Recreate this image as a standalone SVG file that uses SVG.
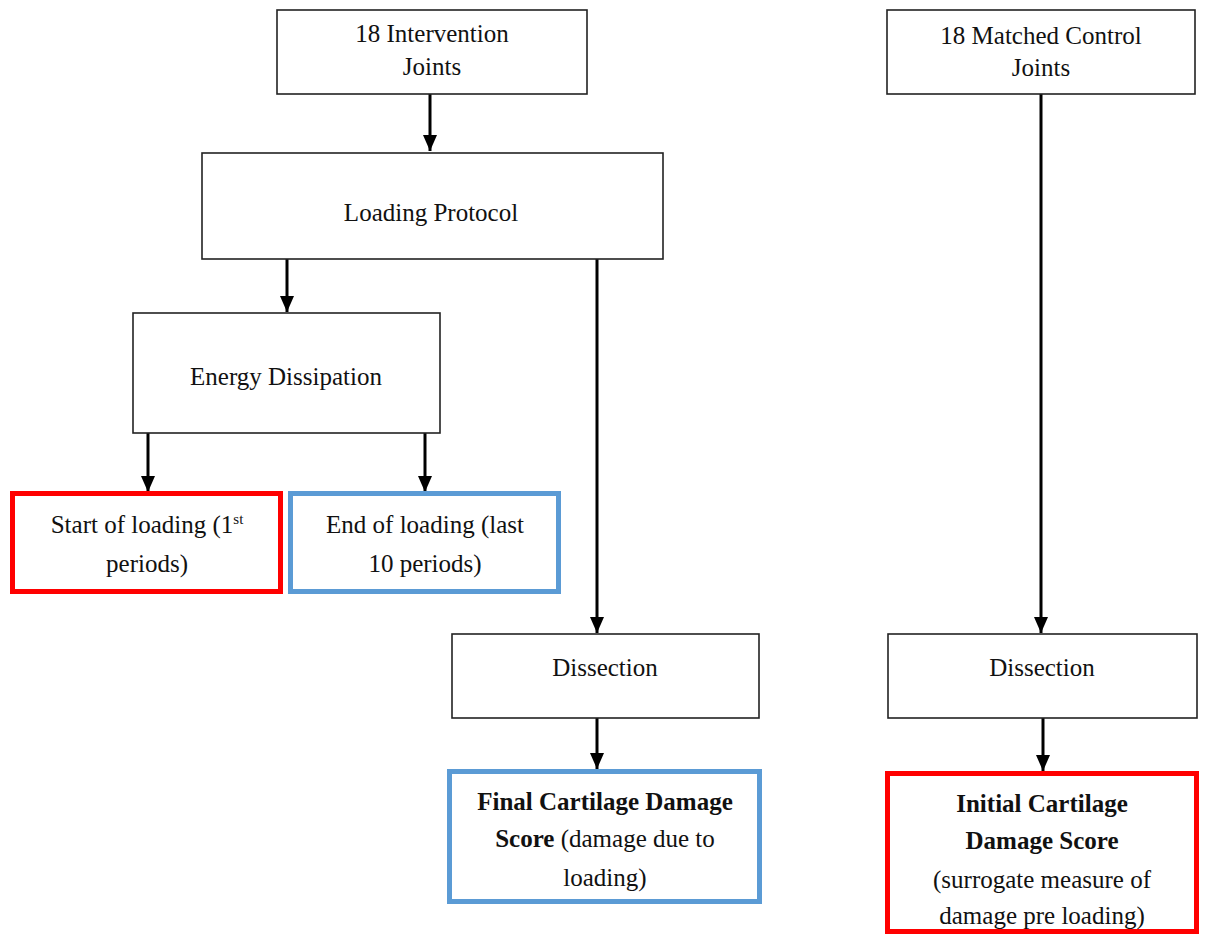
<svg xmlns="http://www.w3.org/2000/svg" width="1205" height="936" viewBox="0 0 1205 936">
<style>
.box{fill:#fff;stroke:#222;stroke-width:1.6}
.red{fill:#fff;stroke:#ff0000;stroke-width:5}
.blue{fill:#fff;stroke:#5b9bd5;stroke-width:5}
.t{font-family:"Liberation Serif","Times New Roman",serif;font-size:25px;fill:#111;text-anchor:middle}
.b{font-weight:bold}
.c{stroke:#000;stroke-width:3;fill:none;marker-end:url(#ah)}
</style>
<defs>
<marker id="ah" markerUnits="userSpaceOnUse" markerWidth="16" markerHeight="14" refX="16" refY="7" orient="auto" viewBox="0 0 16 14">
<path d="M0,0 L16,7 L0,14 Z" fill="#000"/>
</marker>
</defs>
<rect width="1205" height="936" fill="#fff"/>
<g id="connectors">
<line class="c" x1="430" y1="94" x2="430" y2="151"/>
<line class="c" x1="287" y1="259" x2="287" y2="312"/>
<line class="c" x1="148" y1="433" x2="148" y2="492"/>
<line class="c" x1="425" y1="433" x2="425" y2="492"/>
<line class="c" x1="597" y1="259" x2="597" y2="633"/>
<line class="c" x1="597" y1="718" x2="597" y2="769"/>
<line class="c" x1="1041" y1="94" x2="1041" y2="633"/>
<line class="c" x1="1043" y1="718" x2="1043" y2="771"/>
</g>
<g id="intervention">
<rect class="box" x="277" y="10" width="310" height="84"/>
<text class="t" x="432" y="42">18 Intervention</text>
<text class="t" x="432" y="75">Joints</text>
</g>
<g id="control">
<rect class="box" x="887" y="10" width="308" height="84"/>
<text class="t" x="1041" y="44">18 Matched Control</text>
<text class="t" x="1041" y="76">Joints</text>
</g>
<g id="loading">
<rect class="box" x="202" y="153" width="461" height="106"/>
<text class="t" x="431" y="221">Loading Protocol</text>
</g>
<g id="energy">
<rect class="box" x="133" y="313" width="307" height="120"/>
<text class="t" x="286" y="385">Energy Dissipation</text>
</g>
<g id="start">
<rect class="red" x="12.5" y="493.5" width="268" height="98"/>
<text class="t" x="147" y="533">Start of loading (1<tspan font-size="15" dy="-9">st</tspan></text>
<text class="t" x="147" y="572">periods)</text>
</g>
<g id="end">
<rect class="blue" x="290.5" y="493.5" width="268" height="98"/>
<text class="t" x="425" y="533">End of loading (last</text>
<text class="t" x="425" y="572">10 periods)</text>
</g>
<g id="dissection-left">
<rect class="box" x="452" y="634" width="307" height="84"/>
<text class="t" x="605" y="676">Dissection</text>
</g>
<g id="final">
<rect class="blue" x="449.5" y="771.5" width="310" height="130"/>
<text class="t b" x="605" y="810">Final Cartilage Damage</text>
<text class="t" x="605" y="847"><tspan class="b">Score</tspan> (damage due to</text>
<text class="t" x="605" y="886">loading)</text>
</g>
<g id="dissection-right">
<rect class="box" x="888" y="634" width="309" height="84"/>
<text class="t" x="1042" y="676">Dissection</text>
</g>
<g id="initial">
<rect class="red" x="887.5" y="773.5" width="309" height="158"/>
<text class="t b" x="1042" y="812">Initial Cartilage</text>
<text class="t b" x="1042" y="849">Damage Score</text>
<text class="t" x="1042" y="888">(surrogate measure of</text>
<text class="t" x="1042" y="924">damage pre loading)</text>
</g>
</svg>
